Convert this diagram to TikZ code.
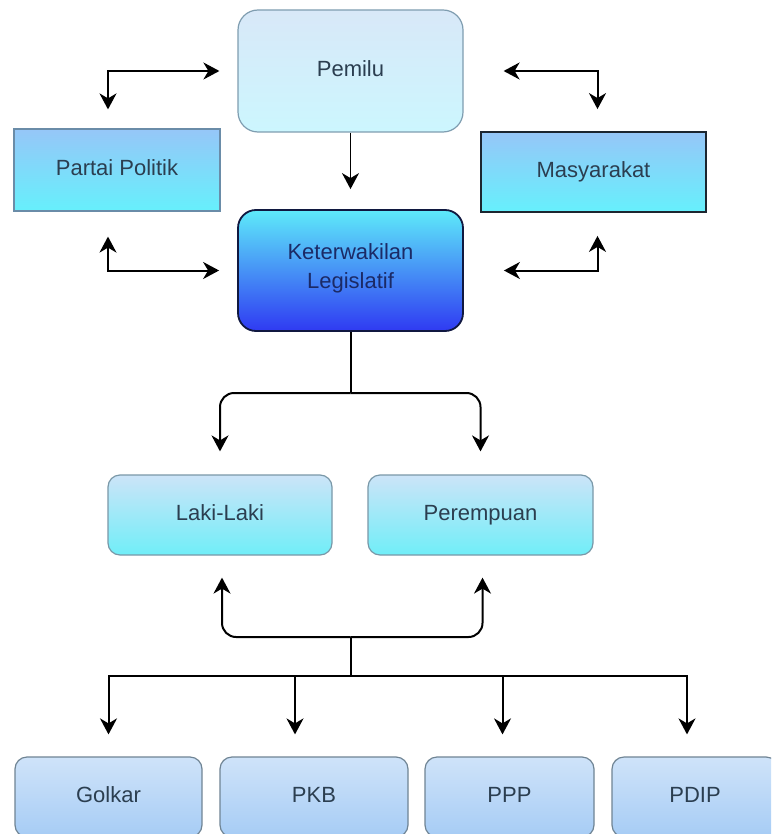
\documentclass[tikz,border=0pt]{standalone}
\usepackage{fontspec}
\setmainfont{Liberation Sans}
\usetikzlibrary{arrows.meta}
\definecolor{txt}{HTML}{2B3E50}
\definecolor{txtdark}{HTML}{1B2A66}
\definecolor{pemT}{HTML}{D8E8F8}
\definecolor{pemB}{HTML}{CCF6FE}
\definecolor{pemD}{HTML}{7F9DB0}
\definecolor{ketT}{HTML}{5EEAFA}
\definecolor{ketB}{HTML}{2F3AF2}
\definecolor{ketD}{HTML}{101840}
\definecolor{sideT}{HTML}{96C6F8}
\definecolor{sideB}{HTML}{66F0FC}
\definecolor{sideD}{HTML}{6A8CA8}
\definecolor{masD}{HTML}{1C2630}
\definecolor{genT}{HTML}{CCE4F8}
\definecolor{genB}{HTML}{70EEF8}
\definecolor{genD}{HTML}{7A98A8}
\definecolor{parT}{HTML}{CFE3F9}
\definecolor{parB}{HTML}{A6CCF5}
\definecolor{parD}{HTML}{6F8494}
\tikzset{
  box/.style={draw, line width=1.2pt, inner sep=0pt, minimum height=80pt,
    font=\fontsize{22}{29}\selectfont, text=txt, align=center,
    execute at begin node=\strut},
  rbox/.style={box, rounded corners=12pt},
  con/.style={line width=2pt, draw=black},
  tip/.style={-{Stealth[length=16pt,width=17pt,inset=5pt]}},
  dtip/.style={{Stealth[length=16pt,width=17pt,inset=5pt]}-{Stealth[length=16pt,width=17pt,inset=5pt]}}
}
\begin{document}
\begin{tikzpicture}[x=1pt,y=-1pt]
\useasboundingbox (0,0) rectangle (771,834);
\clip (0,0) rectangle (771,834);
\fill[white] (0,0) rectangle (771,834);

% nodes
\node[rbox, rounded corners=20pt, minimum width=225pt, minimum height=122pt,
  draw=pemD, top color=pemT, bottom color=pemB] (pem) at (350.5,71) {Pemilu};
\node[rbox, rounded corners=18pt, minimum width=225pt, minimum height=121pt,
  draw=ketD, line width=1.8pt, top color=ketT, bottom color=ketB, text=txtdark] (ket) at (350.5,270.5) {Keterwakilan\\Legislatif};
\node[box, minimum width=206pt, minimum height=82pt, draw=sideD,
  top color=sideT, bottom color=sideB] (pp) at (117,170) {Partai Politik};
\node[box, minimum width=225pt, minimum height=80pt, draw=masD, line width=1.8pt,
  top color=sideT, bottom color=sideB] (mas) at (593.5,172) {Masyarakat};
\node[rbox, minimum width=224pt, draw=genD, top color=genT, bottom color=genB] (laki) at (220,515) {Laki-Laki};
\node[rbox, minimum width=225pt, draw=genD, top color=genT, bottom color=genB] (per) at (480.5,515) {Perempuan};
\node[rbox, minimum width=187pt, draw=parD, top color=parT, bottom color=parB] (gol) at (108.5,797) {Golkar};
\node[rbox, minimum width=188pt, draw=parD, top color=parT, bottom color=parB] (pkb) at (314,797) {PKB};
\node[rbox, minimum width=169pt, draw=parD, top color=parT, bottom color=parB] (ppp) at (509.5,797) {PPP};
\node[rbox, minimum width=166pt, draw=parD, top color=parT, bottom color=parB] (pdip) at (695,797) {PDIP};

% upper connectors
\draw[con, dtip, shorten <=19pt, shorten >=18pt] ([xshift=-9pt]pp.north) |- (pem.west);
\draw[con, dtip, shorten <=25pt, shorten >=18pt] ([xshift=-9pt]pp.south) |- (ket.west);
\draw[con, dtip, shorten <=40pt, shorten >=22pt] (pem.east) -| ([xshift=4pt]mas.north);
\draw[con, dtip, shorten <=40pt, shorten >=23pt] (ket.east) -| ([xshift=4pt]mas.south);
\draw[con, line width=1.6pt, tip, shorten >=20pt] (pem) -- (ket);

% split to gender
\coordinate (split) at (350.5,393);
\draw[con] (ket.south) -- (split);
\draw[con, tip, rounded corners=14pt, shorten >=23pt] (split) -| (laki.north);
\draw[con, tip, rounded corners=14pt, shorten >=23pt] (split) -| (per.north);

% lower hub
\coordinate (mid) at (350.5,637);
\coordinate (hub) at (350.5,676);
\draw[con] (hub) -- (mid);
\draw[con, tip, rounded corners=14pt, shorten >=22pt] (mid) -| ([xshift=2pt]laki.south);
\draw[con, tip, rounded corners=14pt, shorten >=22pt] (mid) -| ([xshift=2pt]per.south);
\draw[con, tip, shorten >=22pt] (hub) -| (gol.north);
\draw[con, tip, shorten >=22pt] (hub) -| ([xshift=-19pt]pkb.north);
\draw[con, tip, shorten >=22pt] (hub) -| ([xshift=-7pt]ppp.north);
\draw[con, tip, shorten >=22pt] (hub) -| ([xshift=-8pt]pdip.north);
\end{tikzpicture}
\end{document}
